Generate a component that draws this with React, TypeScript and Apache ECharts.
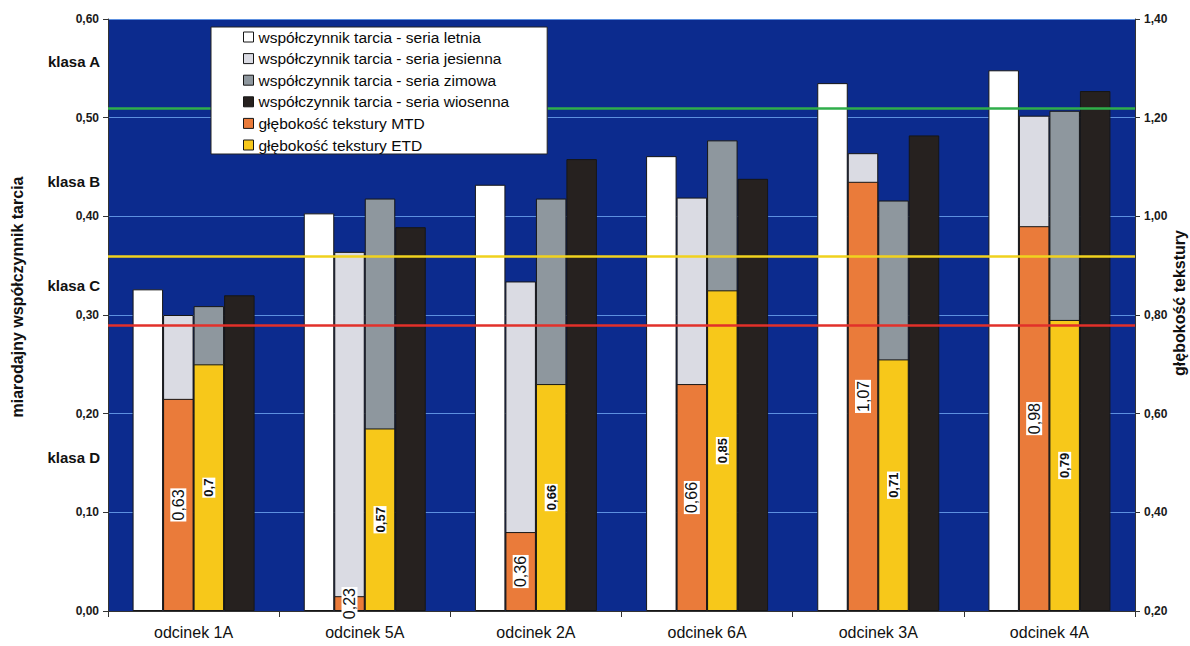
import React, { useEffect, useRef } from "react";
import * as echarts from "echarts";

// Road sections
const categories = ["odcinek 1A", "odcinek 5A", "odcinek 2A", "odcinek 6A", "odcinek 3A", "odcinek 4A"];

// Miarodajny współczynnik tarcia (left axis)
const frictionSummer = [0.326, 0.403, 0.432, 0.461, 0.535, 0.548];
const frictionAutumn = [0.3, 0.364, 0.334, 0.419, 0.464, 0.502];
const frictionWinter = [0.309, 0.418, 0.418, 0.477, 0.416, 0.507];
const frictionSpring = [0.32, 0.389, 0.458, 0.438, 0.482, 0.527];

// Głębokość tekstury (right axis)
const textureMTD = [0.63, 0.23, 0.36, 0.66, 1.07, 0.98];
const textureETD = [0.7, 0.57, 0.66, 0.85, 0.71, 0.79];

// Threshold lines on the friction scale
const thresholdValues = [0.505, 0.36, 0.29];
const thresholdColors = ["#2fae4a", "#f0d21e", "#e2302a"];

// Friction class captions and the friction level they sit at
const classNames = ["klasa A", "klasa B", "klasa C", "klasa D"];
const classLevels = [0.557, 0.435, 0.33, 0.156];

const seriesNames = [
  "współczynnik tarcia - seria letnia",
  "współczynnik tarcia - seria jesienna",
  "współczynnik tarcia - seria zimowa",
  "współczynnik tarcia - seria wiosenna",
  "głębokość tekstury MTD",
  "głębokość tekstury ETD",
];
const seriesColors = ["#ffffff", "#dadbe3", "#8e979e", "#26211f", "#ea7b3a", "#f7c81a"];

const FONT = '"Liberation Sans", Arial, sans-serif';
const comma = (v: number, digits?: number) =>
  (digits === undefined ? String(v) : v.toFixed(digits)).replace(".", ",");

const BAR_W = 30.5;
const border = { borderColor: "#161616", borderWidth: 1 };

export default function App() {
  const ref = useRef<HTMLDivElement>(null);

  useEffect(() => {
    if (!ref.current) return;
    const chart = echarts.init(ref.current, undefined, { renderer: "svg" });

    const frictionSeries = [frictionSummer, frictionAutumn, frictionWinter, frictionSpring].map((d, i) => ({
      name: seriesNames[i],
      type: "bar",
      xAxisIndex: 0,
      yAxisIndex: 0,
      data: d,
      barWidth: BAR_W,
      barGap: "0%",
      itemStyle: { color: seriesColors[i], ...border },
      ...(i === 0
        ? {
            markLine: {
              silent: true,
              symbol: "none",
              label: { show: false },
              data: thresholdValues.map((v, k) => ({
                yAxis: v,
                lineStyle: { color: thresholdColors[k], width: 2.5, type: "solid" },
              })),
            },
          }
        : {}),
    }));

    const spacer = (name: string) => ({
      name,
      type: "bar",
      xAxisIndex: 1,
      yAxisIndex: 1,
      data: categories.map(() => "-"),
      barWidth: BAR_W,
      barGap: "0%",
      silent: true,
    });

    const textureSeries = [textureMTD, textureETD].map((d, i) => ({
      name: seriesNames[4 + i],
      type: "bar",
      xAxisIndex: 1,
      yAxisIndex: 1,
      data: d,
      barWidth: BAR_W,
      barGap: "0%",
      itemStyle: { color: seriesColors[4 + i], ...border },
      label: {
        show: true,
        position: "inside",
        rotate: 90,
        formatter: (p: any) => comma(p.value),
        fontFamily: FONT,
        fontSize: i === 0 ? 16 : 13,
        fontWeight: i === 0 ? "normal" : "bold",
        color: "#111",
        backgroundColor: "#ffffff",
        padding: [0, 1],
      },
    }));

    chart.setOption({
      animation: false,
      backgroundColor: "#ffffff",
      textStyle: { fontFamily: FONT },
      grid: {
        left: 108,
        right: 55,
        top: 19,
        bottom: 35,
        show: true,
        backgroundColor: "#0c2b8e",
        borderWidth: 0,
      },
      legend: {
        data: seriesNames,
        orient: "vertical",
        left: 211,
        top: 27,
        icon: "rect",
        itemWidth: 10,
        itemHeight: 10,
        itemGap: 5.6,
        padding: [2, 38, 1, 32],
        backgroundColor: "#ffffff",
        borderColor: "#222",
        borderWidth: 1,
        selectedMode: false,
        z: 10,
        itemStyle: { borderColor: "#161616", borderWidth: 1 },
        textStyle: { fontFamily: FONT, fontSize: 15.5, color: "#0a0a0a" },
      },
      xAxis: [
        {
          type: "category",
          data: categories,
          axisLine: { lineStyle: { color: "#333", width: 1 } },
          axisTick: { show: true, length: 6, lineStyle: { color: "#333" } },
          axisLabel: { fontFamily: FONT, fontSize: 16, color: "#111", margin: 13 },
          splitLine: { show: false },
        },
        { type: "category", data: categories, show: false },
      ],
      yAxis: [
        {
          type: "value",
          position: "left",
          min: 0,
          max: 0.6,
          interval: 0.1,
          axisLine: { show: true, lineStyle: { color: "#333" } },
          axisTick: { show: true, length: 5, lineStyle: { color: "#333" } },
          axisLabel: {
            fontFamily: FONT,
            fontSize: 12,
            fontWeight: "bold",
            color: "#1a1a1a",
            margin: 9,
            formatter: (v: number) => comma(v, 2),
          },
          splitLine: { show: true, lineStyle: { color: "#5d90e0", width: 1 } },
        },
        {
          type: "value",
          position: "right",
          min: 0.2,
          max: 1.4,
          interval: 0.2,
          startValue: 0.2,
          axisLine: { show: true, lineStyle: { color: "#333" } },
          axisTick: { show: true, length: 5, lineStyle: { color: "#333" } },
          axisLabel: {
            fontFamily: FONT,
            fontSize: 12,
            fontWeight: "bold",
            color: "#1a1a1a",
            margin: 9,
            formatter: (v: number) => comma(v, 2),
          },
          splitLine: { show: false },
        },
      ],
      series: [...frictionSeries, spacer("_a"), ...textureSeries, spacer("_b")],
    });

    // Class captions beside the friction axis, plus the two axis titles
    const graphics: any[] = classNames.map((t, i) => ({
      type: "text",
      x: 100,
      y: chart.convertToPixel({ yAxisIndex: 0 }, classLevels[i]) as number,
      style: {
        text: t,
        font: `bold 15px ${FONT}`,
        fill: "#111",
        align: "right",
        verticalAlign: "middle",
        textAlign: "right",
        textVerticalAlign: "middle",
      },
    }));
    graphics.push(
      {
        type: "text",
        x: 17,
        y: 297,
        rotation: Math.PI / 2,
        style: {
          text: "miarodajny współczynnik tarcia",
          font: `bold 16px ${FONT}`,
          fill: "#111",
          align: "center",
          verticalAlign: "middle",
          textAlign: "center",
          textVerticalAlign: "middle",
        },
      },
      {
        type: "text",
        x: 1179,
        y: 303,
        rotation: Math.PI / 2,
        style: {
          text: "głębokość tekstury",
          font: `bold 16px ${FONT}`,
          fill: "#111",
          align: "center",
          verticalAlign: "middle",
          textAlign: "center",
          textVerticalAlign: "middle",
        },
      }
    );
    chart.setOption({ graphic: graphics });

    return () => chart.dispose();
  }, []);

  return (
    <div
      ref={ref}
      style={{ position: "fixed", left: 0, top: 0, width: 1190, height: 646, background: "#fff" }}
    />
  );
}
